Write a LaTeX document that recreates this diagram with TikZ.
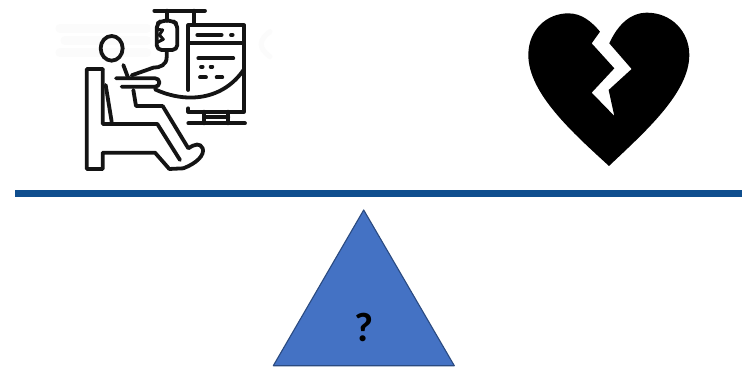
\documentclass[tikz,border=0pt]{standalone}
\usepackage{fontspec}
\setmainfont{Carlito}
\tikzset{
  iconline/.style={draw=black!92,line width=3.8pt,line join=round,line cap=round,fill=none},
  ghost/.style={draw=black!1.5,line width=9pt,line cap=round},
  balance/.style={fill=barblue,draw=none},
  fulcrum/.style={fill=triblue,draw=triedge,line width=1.1pt,line join=round},
  qmark/.style={font=\bfseries\fontsize{41}{41}\selectfont,text=black,inner sep=0pt}
}
\definecolor{barblue}{HTML}{0F4E8E}
\definecolor{triblue}{HTML}{4472C4}
\definecolor{triedge}{HTML}{2A4A80}
\begin{document}
\begin{tikzpicture}[x=1pt,y=-1pt]
\useasboundingbox (0,0) rectangle (742,367);
\fill[white] (0,0) rectangle (742,367);
% bar
\fill[balance] (15,190) rectangle (742,197.4);
% triangle
\draw[fulcrum] (363.7,210) -- (454.3,365.7) -- (273.3,365.7) -- cycle;
\node[qmark] (q) at (364,327) {?};
% patient icon
\begin{scope}[shift={(40,0)},x=0.3333pt,y=-0.3333pt]
  % faint residue
  \draw[ghost] (60,85)--(320,85) (75,122)--(320,122) (60,158)--(320,158);
  \draw[ghost,line width=5pt] (690,95) .. controls (655,120) and (655,145) .. (690,170);
  % IV pole
  \draw[iconline] (343,32)--(495,32) (380,32)--(380,62) (462,32)--(462,75);
  % bag
  \draw[iconline,rounded corners=5pt] (365,62)--(350,72)--(350,150)--(412,150)--(412,72)--(397,62)--cycle;
  \draw[iconline,line width=3pt] (350,88)--(368,90)--(358,105)--(370,118)--(350,128);
  % tube
  \draw[iconline] (380,150)--(380,172) .. controls (380,195) and (360,203) .. (340,203) -- (275,226);
  % head
  \draw[iconline] (215,145) ellipse [x radius=33,y radius=37];
  % chair and leg
  \draw[iconline] (188,207)--(140,207)--(140,507)--(188,507)--(188,458)--(345,458)--(388,507)--(430,505)
     .. controls (470,490) and (495,465) .. (488,445) .. controls (480,428) and (465,432) .. (445,445) -- (368,318);
  \draw[iconline] (188,207)--(188,372)--(352,372)--(420,480);
  % torso
  \draw[iconline] (197,255)--(215,365);
  \draw[iconline] (280,270)--(288,318)--(368,318);
  % arm
  \draw[iconline] (250,195)--(265,235);
  \draw[iconline,rounded corners=4pt] (228,235)--(358,235)--(358,260)--(245,260);
  % monitor
  \draw[iconline] (445,270)--(445,76)--(612,76)--(612,335)--(445,335)--(445,325);
  \draw[iconline] (445,130)--(612,130);
  \draw[iconline] (472,105)--(545,105) (475,175)--(580,175);
  \draw[iconline] (573,105)--(578,105) (483,200)--(488,200) (512,200)--(517,200);
  \draw[iconline] (480,232)--(498,232) (530,232)--(547,232);
  \draw[iconline] (345,268) .. controls (440,312) and (550,300) .. (612,208);
  % stand
  \draw[iconline] (492,335)--(492,370) (565,335)--(565,370) (492,352)--(565,352);
  \draw[iconline] (445,370)--(615,370);
\end{scope}
% broken heart
\begin{scope}[shift={(510,0)},x=0.3333pt,y=-0.3333pt]
  \fill[black] (297,498)
    .. controls (190,400) and (55,280) .. (55,165)
    .. controls (55,90) and (110,40) .. (175,40)
    .. controls (215,40) and (245,65) .. (270,95)
    -- (245,130) -- (313,205) -- (245,278) -- (313,348) -- (296,270) -- (365,207) -- (298,130)
    .. controls (325,70) and (365,38) .. (410,38)
    .. controls (485,38) and (538,95) .. (538,165)
    .. controls (538,280) and (400,400) .. (297,498) -- cycle;
\end{scope}
\end{tikzpicture}
\end{document}
